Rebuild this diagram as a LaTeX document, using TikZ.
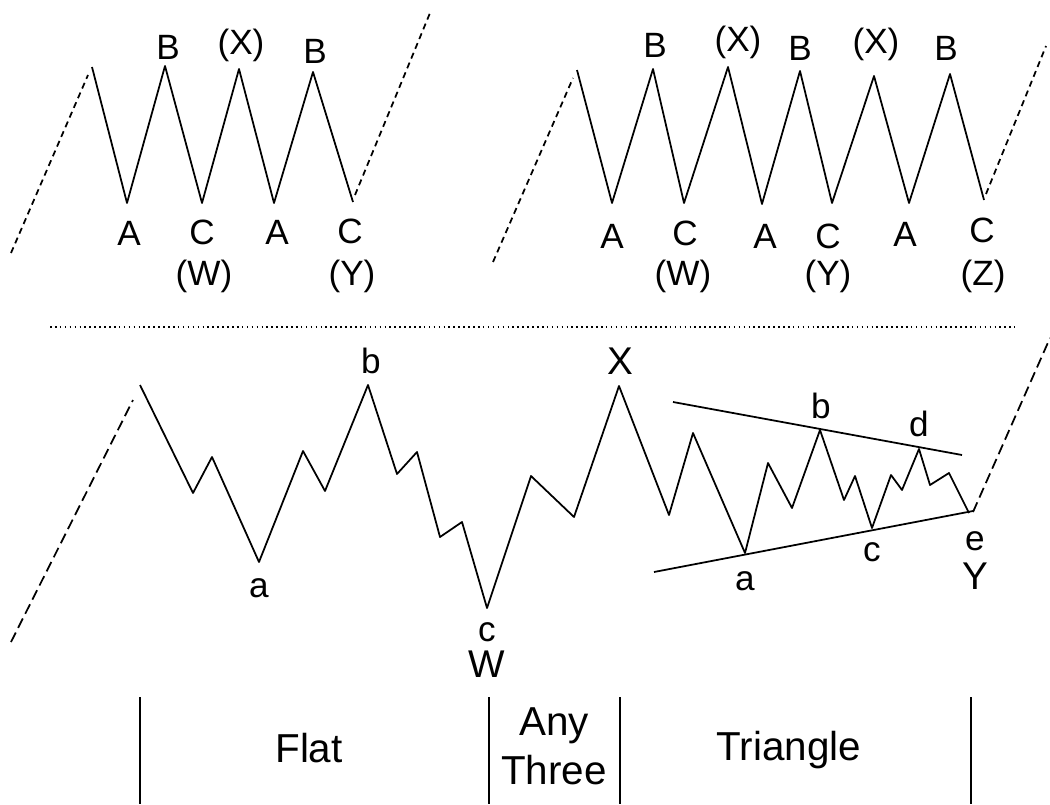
\documentclass[tikz,border=0pt]{standalone}
\usepackage{fontspec}
\setmainfont{Liberation Sans}
\usetikzlibrary{positioning}
\tikzset{
  wave/.style={line width=1pt, line join=round},
  lead/.style={line width=1pt, dash pattern=on 3.5pt off 2.5pt},
  longlead/.style={line width=1pt, dash pattern=on 6pt off 3pt},
  sepline/.style={line width=1.1pt, dash pattern=on 0.9pt off 1.9pt},
  bound/.style={line width=1.1pt},
  toplbl/.style={font=\fontsize{20}{22}\selectfont, inner sep=0pt},
  smalllbl/.style={font=\fontsize{20}{22}\selectfont, inner sep=0pt},
  biglbl/.style={font=\fontsize{22}{24}\selectfont, inner sep=0pt},
  patlbl/.style={font=\fontsize{23}{28}\selectfont, inner sep=0pt, align=center},
}

\begin{document}
\begin{tikzpicture}[x=0.02cm, y=-0.02cm]
  \useasboundingbox (0,0) rectangle (1050,804);

  % double three
  \coordinate (dS) at (92,67);   \coordinate (dA1) at (127,203);
  \coordinate (dB1) at (165,66); \coordinate (dW) at (202,203);
  \coordinate (dX) at (239,69);  \coordinate (dA2) at (274,203);
  \coordinate (dB2) at (313,72); \coordinate (dY) at (353,202);
  \draw[lead] (11,253) -- (88,75);
  \draw[wave] (dS) -- (dA1) -- (dB1) -- (dW) -- (dX) -- (dA2) -- (dB2) -- (dY);
  \draw[lead] (355,195) -- (430,13);

  \node[toplbl] (dlB1) at (168,47) {B};
  \node[toplbl] (dlX) at (241,45) {(X)};
  \node[toplbl] (dlB2) at (315,51) {B};
  \node[toplbl] (dlA1) at (129,233) {A};
  \node[toplbl] (dlC1) at (202,232) {C};
  \node[toplbl] (dlA2) at (277,232) {A};
  \node[toplbl] (dlC2) at (350,231) {C};
  \node[toplbl] (dlW) at (204,276) {(W)};
  \node[toplbl] (dlY) at (352,276) {(Y)};

  % triple three
  \coordinate (tS) at (577,70);   \coordinate (tA1) at (612,203);
  \coordinate (tB1) at (653,69);  \coordinate (tW) at (684,203);
  \coordinate (tX1) at (728,67);  \coordinate (tA2) at (762,204);
  \coordinate (tB2) at (800,71);  \coordinate (tY) at (832,203);
  \coordinate (tX2) at (874,76);  \coordinate (tA3) at (909,203);
  \coordinate (tB3) at (950,74);  \coordinate (tZ) at (984,200);
  \draw[lead] (493,262) -- (573,78);
  \draw[wave] (tS) -- (tA1) -- (tB1) -- (tW) -- (tX1) -- (tA2) -- (tB2) -- (tY)
              -- (tX2) -- (tA3) -- (tB3) -- (tZ);
  \draw[lead] (986,194) -- (1046,46);

  \node[toplbl] (tlB1) at (655,45) {B};
  \node[toplbl] (tlX1) at (738,42) {(X)};
  \node[toplbl] (tlB2) at (800,48) {B};
  \node[toplbl] (tlX2) at (876,44) {(X)};
  \node[toplbl] (tlB3) at (946,48) {B};
  \node[toplbl] (tlA1) at (612,236) {A};
  \node[toplbl] (tlC1) at (685,233) {C};
  \node[toplbl] (tlA2) at (765,236) {A};
  \node[toplbl] (tlC2) at (828,236) {C};
  \node[toplbl] (tlA3) at (905,234) {A};
  \node[toplbl] (tlC3) at (982,230) {C};
  \node[toplbl] (tlW) at (683,276) {(W)};
  \node[toplbl] (tlY) at (828,276) {(Y)};
  \node[toplbl] (tlZ) at (983,276) {(Z)};

  \draw[sepline] (50,327) -- (1015,327);

  % flat - any three - triangle
  \coordinate (fS) at (140,385);  \coordinate (fa) at (259,562);
  \coordinate (fb) at (368,385);  \coordinate (fc) at (487,608);
  \coordinate (xX) at (619,386);
  \coordinate (ga) at (745,553);  \coordinate (gb) at (820,430);
  \coordinate (gc) at (872,528);  \coordinate (gd) at (919,449);
  \coordinate (ge) at (969,513);
  \draw[longlead] (11,642) -- (133,400);
  \draw[wave] (fS) -- (193,493) -- (212,457) -- (fa) -- (303,451) -- (325,491)
              -- (fb) -- (397,474) -- (417,452) -- (440,537) -- (462,522) -- (fc)
              -- (531,476) -- (574,517) -- (xX) -- (669,515) -- (693,433)
              -- (ga) -- (768,463) -- (792,508) -- (gb) -- (844,500) -- (855,476)
              -- (gc) -- (891,475) -- (902,490) -- (gd) -- (930,485) -- (949,473) -- (ge);
  \draw[longlead] (973,512) -- (1050,338);
  \draw[wave] (673,402) -- (962,455);
  \draw[wave] (654,572) -- (973,511);

  \node[smalllbl] (fla) at (259,588) {a};
  \node[smalllbl] (flb) at (371,361) {b};
  \node[smalllbl] (flc) at (487,632) {c};
  \node[biglbl] (flW) at (487,664) {W};
  \node[biglbl] (xlX) at (620,361) {X};
  \node[smalllbl] (gla) at (745,581) {a};
  \node[smalllbl] (glb) at (821,406) {b};
  \node[smalllbl] (glc) at (872,552) {c};
  \node[smalllbl] (gld) at (919,424) {d};
  \node[smalllbl] (gle) at (975,541) {e};
  \node[biglbl] (glY) at (975,576) {Y};

  % pattern bounds
  \coordinate (k1) at (140,697); \coordinate (k2) at (489,697);
  \coordinate (k3) at (620,697); \coordinate (k4) at (971,697);
  \draw[bound] (k1) -- (140,804);
  \draw[bound] (k2) -- (489,804);
  \draw[bound] (k3) -- (620,804);
  \draw[bound] (k4) -- (971,804);
  \node[patlbl] (pflat) at (309,748) {Flat};
  \node[patlbl] (pany) at (554,746) {Any\\Three};
  \node[patlbl] (ptri) at (789,750) {Triangle};
\end{tikzpicture}
\end{document}
